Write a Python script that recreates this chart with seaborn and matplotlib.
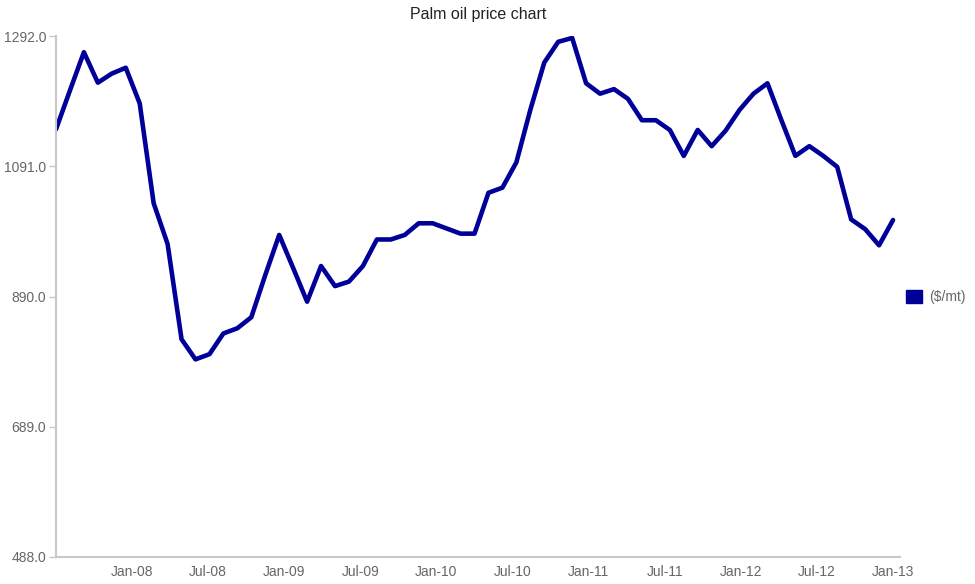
import numpy as np
import pandas as pd
import matplotlib
matplotlib.use('Agg')
import matplotlib.pyplot as plt
import matplotlib.patches as mpatches
import seaborn as sns

# monthly palm oil price, $/mt
prices = [1148, 1208, 1267, 1220, 1234, 1243, 1188, 1034, 971, 824,
          793, 801, 833, 841, 858, 923, 985, 934, 882, 937,
          906, 913, 937, 978, 978, 985, 1003, 1003, 995, 987,
          987, 1050, 1058, 1097, 1178, 1251, 1283, 1289, 1219, 1203,
          1210, 1195, 1162, 1162, 1147, 1107, 1147, 1122, 1146, 1178,
          1203, 1219, 1162, 1107, 1122, 1107, 1090, 1009, 994, 969,
          1008]
tick_labels = ['Jan-08', 'Jul-08', 'Jan-09', 'Jul-09', 'Jan-10', 'Jul-10',
               'Jan-11', 'Jul-11', 'Jan-12', 'Jul-12', 'Jan-13']
y_ticks = [488.0, 689.0, 890.0, 1091.0, 1292.0]
series_name = '($/mt)'

LINE_COLOR = '#000099'
GREY = '#666666'

df = pd.DataFrame({'idx': np.arange(len(prices)), 'price': prices})

sns.set_style('white')
plt.rcParams['font.family'] = ['Liberation Sans', 'DejaVu Sans']

fig = plt.figure(figsize=(9.75, 5.84), dpi=100)
ax = fig.add_axes([56 / 975, 27 / 584, (900 - 56) / 975, (557 - 36) / 584])

sns.lineplot(data=df, x='idx', y='price', color=LINE_COLOR, linewidth=3.3, ax=ax)

last = len(prices) - 1
ax.set_xlim(0, last + 0.5)
ax.set_ylim(y_ticks[0], y_ticks[-1])

# the labels are spread evenly over the axis, not pinned to months
ax.set_xticks(np.linspace(0, last, len(tick_labels) + 1)[1:])
ax.set_xticklabels(tick_labels)
ax.set_yticks(y_ticks)
ax.set_yticklabels(['%.1f' % v for v in y_ticks])

ax.tick_params(axis='x', length=0, pad=6, labelsize=10, labelcolor=GREY)
ax.tick_params(axis='y', length=5, width=1, color='#c8c8c8', pad=2,
               labelsize=10, labelcolor=GREY, left=True)

for side in ['top', 'right']:
    ax.spines[side].set_visible(False)
for side in ['left', 'bottom']:
    ax.spines[side].set_color('#c8c8c8')
    ax.spines[side].set_linewidth(1.5)

ax.set_xlabel('')
ax.set_ylabel('')
ax.set_title('Palm oil price chart', fontsize=11.5, color='#222222', pad=12)

handle = mpatches.Patch(facecolor=LINE_COLOR, edgecolor=LINE_COLOR, label=series_name)
fig.legend(handles=[handle], loc='center left', bbox_to_anchor=(896 / 975, 1 - 297 / 584),
           frameon=False, fontsize=10, handlelength=1.15, handleheight=1.15,
           handletextpad=0.5, borderpad=0.2, labelcolor=GREY)

fig.savefig('out.png', dpi=100)
